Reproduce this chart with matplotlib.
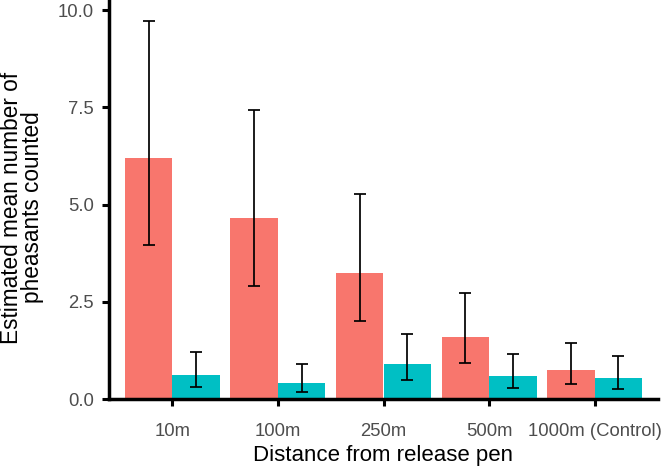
import matplotlib
matplotlib.use("Agg")
import matplotlib.pyplot as plt
import numpy as np

categories = ["10m", "100m", "250m", "500m", "1000m (Control)"]
red_vals = [6.19, 4.65, 3.24, 1.59, 0.74]
red_lo = [3.95, 2.91, 2.00, 0.92, 0.39]
red_hi = [9.73, 7.44, 5.26, 2.73, 1.43]
cyan_vals = [0.62, 0.40, 0.89, 0.58, 0.53]
cyan_lo = [0.31, 0.19, 0.49, 0.29, 0.26]
cyan_hi = [1.22, 0.91, 1.68, 1.16, 1.11]
yticks = [0.0, 2.5, 5.0, 7.5, 10.0]

plt.rcParams['font.family'] = ['Liberation Sans', 'DejaVu Sans']

fig = plt.figure(figsize=(6.64, 4.66), dpi=100)
ax = fig.add_axes([109/664, 67/466, (658-109)/664, 399/466])

x = np.arange(len(categories))
w = 0.45
red_c = "#F8766D"
cyan_c = "#00BFC4"
ax.bar(x - w/2, red_vals, width=w, color=red_c, zorder=2)
ax.bar(x + w/2, cyan_vals, width=w, color=cyan_c, zorder=2)

ekw = dict(fmt='none', ecolor='black', elinewidth=1.25, capsize=4.5, capthick=1.25, zorder=3)
ax.errorbar(x - w/2, red_vals,
            yerr=[np.array(red_vals) - np.array(red_lo), np.array(red_hi) - np.array(red_vals)], **ekw)
ax.errorbar(x + w/2, cyan_vals,
            yerr=[np.array(cyan_vals) - np.array(cyan_lo), np.array(cyan_hi) - np.array(cyan_vals)], **ekw)

ax.set_xlim(-0.6, len(categories) - 0.4)
ax.set_ylim(0, 10.26)
ax.set_yticks(yticks)
ax.set_yticklabels([f"{v:.1f}" for v in yticks])
ax.set_xticks(x)
ax.set_xticklabels(categories)

for s in ['top', 'right']:
    ax.spines[s].set_visible(False)
for s in ['left', 'bottom']:
    ax.spines[s].set_linewidth(2.5)
    ax.spines[s].set_color('black')
ax.tick_params(axis='both', width=2.2, length=5, color='black', labelcolor='#4D4D4D', labelsize=13.3)
ax.tick_params(axis='x', pad=12)
ax.tick_params(axis='y', pad=6)

ax.set_xlabel("Distance from release pen", fontsize=16, color='black', labelpad=4)
ax.set_ylabel("Estimated mean number of\npheasants counted", fontsize=16.3, color='black',
              linespacing=0.9)
ax.yaxis.set_label_coords(-0.118, 0.48)

fig.savefig("out.png", dpi=100)
